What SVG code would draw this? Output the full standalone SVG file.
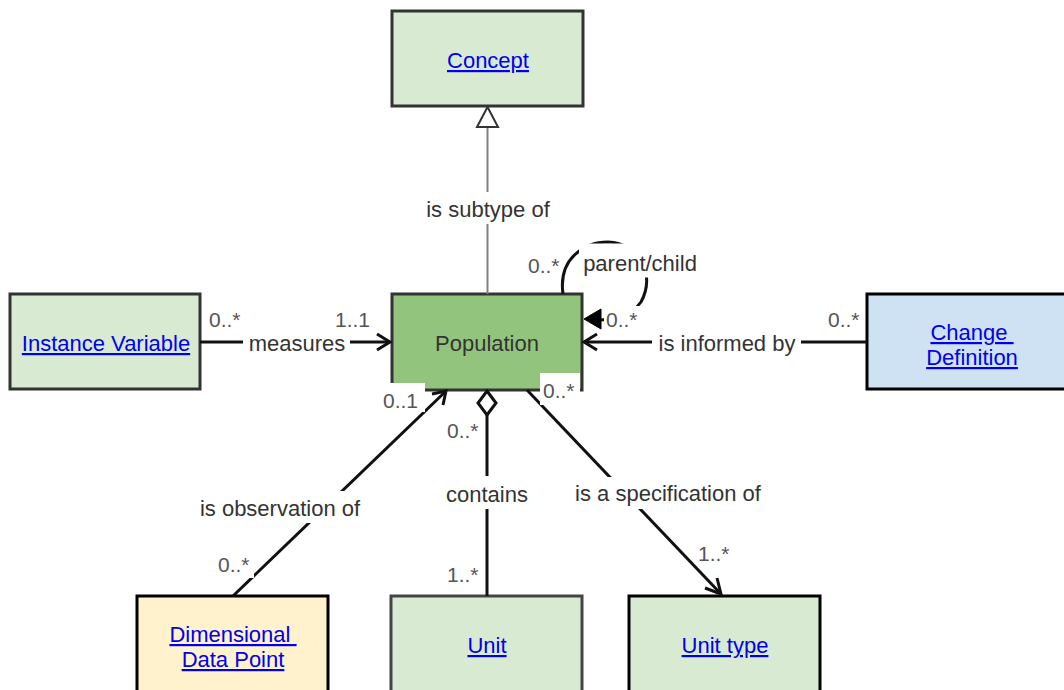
<svg xmlns="http://www.w3.org/2000/svg" width="1064" height="690" viewBox="0 0 1064 690">
<style>
text{font-family:"Liberation Sans",Arial,sans-serif}
.node{stroke-width:3}
.lnk{font-size:22px;fill:#0000EE;text-decoration:underline;text-anchor:middle}
.ttl{font-size:22px;fill:#333;text-anchor:middle}
.lbl{font-size:22px;fill:#333;text-anchor:middle}
.mul{font-size:21px;fill:#555}
.bg{fill:#fff}
.edge{fill:none;stroke:#111;stroke-width:3}
.open{fill:none;stroke:#111;stroke-width:3;stroke-linejoin:miter}
</style>
<rect width="1064" height="690" fill="#fff"/>
<g id="concept"><rect class="node" x="392" y="11" width="191" height="95" fill="#d9ead3" stroke="#333"/><text class="lnk" x="488" y="68">Concept</text></g>
<g id="population"><rect class="node" x="392" y="294" width="190" height="96" fill="#93c47d" stroke="#333"/><text class="ttl" x="487" y="351">Population</text></g>
<g id="instance-variable"><rect class="node" x="10" y="294" width="190" height="95" fill="#d9ead3" stroke="#333"/><text class="lnk" x="106" y="351">Instance Variable</text></g>
<g id="change-definition"><rect class="node" x="867" y="294" width="210" height="95" fill="#cfe2f3" stroke="#000"/><text class="lnk" x="972" y="340" xml:space="preserve">Change&#160;</text><text class="lnk" x="972" y="365">Definition</text></g>
<g id="dimensional-data-point"><rect class="node" x="137" y="596" width="191" height="96" fill="#fff2cc" stroke="#000"/><text class="lnk" x="233" y="642" xml:space="preserve">Dimensional&#160;</text><text class="lnk" x="233" y="667">Data Point</text></g>
<g id="unit"><rect class="node" x="391" y="596" width="191" height="96" fill="#d9ead3" stroke="#444"/><text class="lnk" x="487" y="653">Unit</text></g>
<g id="unit-type"><rect class="node" x="629" y="596" width="191" height="96" fill="#d9ead3" stroke="#000"/><text class="lnk" x="725" y="653">Unit type</text></g>
<g id="connectors">
<!-- is subtype of -->
<line x1="487.5" y1="294" x2="487.5" y2="127" stroke="#808080" stroke-width="2"/>
<polygon points="487.5,107 477,127 498,127" fill="#fff" stroke="#333" stroke-width="2"/>
<rect class="bg" x="418" y="192" width="140" height="32"/>
<text class="lbl" x="488" y="217">is subtype of</text>
<!-- measures -->
<line class="edge" x1="200" y1="342" x2="389" y2="342"/>
<polyline class="open" points="377,334 390,342 377,350"/>
<rect class="bg" x="243" y="328" width="107" height="30"/>
<text class="lbl" x="297" y="351">measures</text>
<text class="mul" x="209" y="327">0..*</text>
<text class="mul" x="335" y="327">1..1</text>
<!-- is informed by -->
<line class="edge" x1="867" y1="342" x2="585" y2="342"/>
<polyline class="open" points="597,334 584,342 597,350"/>
<rect class="bg" x="652" y="328" width="149" height="30"/>
<text class="lbl" x="727" y="351">is informed by</text>
<text class="mul" x="828" y="327">0..*</text>
<!-- parent/child self loop -->
<path class="edge" d="M563,294 C558,258 585,242 608,242 C640,243 656,275 641,302 C631,316 612,320 598,320"/>
<rect class="bg" x="579" y="243.5" width="123" height="34"/>
<text class="lbl" x="640" y="271">parent/child</text>
<rect class="bg" x="604" y="306" width="38" height="26"/>
<polygon points="584,319 601,309 601,329" fill="#000" stroke="#000" stroke-width="1" stroke-linejoin="round"/>
<text class="mul" x="606" y="327">0..*</text>
<text class="mul" x="528" y="273">0..*</text>
<!-- is observation of -->
<line class="edge" x1="233" y1="596" x2="445" y2="392"/>
<polyline class="open" points="432,394 446,391 443,405"/>
<rect class="bg" x="193" y="491" width="174" height="32"/>
<text class="lbl" x="280" y="516">is observation of</text>
<rect class="bg" x="381" y="383" width="44" height="29"/>
<text class="mul" x="383" y="408">0..1</text>
<rect class="bg" x="216" y="550" width="38" height="28"/>
<text class="mul" x="218" y="572">0..*</text>
<!-- contains -->
<line class="edge" x1="487" y1="415" x2="487" y2="596"/>
<polygon points="487,391 496,403 487,415 478,403" fill="#fff" stroke="#111" stroke-width="3"/>
<rect class="bg" x="440" y="476" width="94" height="33"/>
<text class="lbl" x="487" y="502">contains</text>
<text class="mul" x="447" y="438">0..*</text>
<text class="mul" x="447" y="582">1..*</text>
<!-- is a specification of -->
<line class="edge" x1="527" y1="390" x2="721" y2="594"/>
<polyline class="open" points="705,588 721,594 717,578"/>
<rect class="bg" x="568" y="477" width="200" height="32"/>
<text class="lbl" x="668" y="501">is a specification of</text>
<rect class="bg" x="540" y="373" width="40" height="32"/>
<text class="mul" x="543" y="398">0..*</text>
<text class="mul" x="698" y="561">1..*</text>
</g>
</svg>
